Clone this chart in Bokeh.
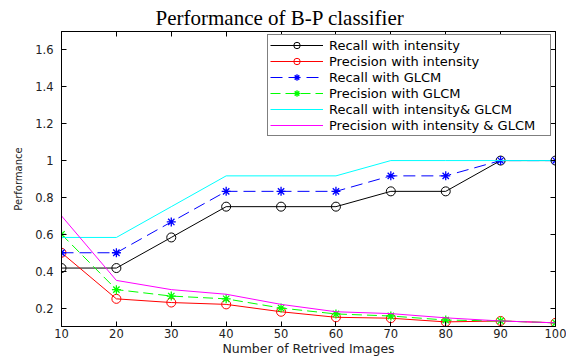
from bokeh.plotting import figure
from bokeh.models import (Legend, LegendItem, LinearAxis, FixedTicker, Range1d)
from bokeh.embed import file_html
from bokeh.resources import INLINE

# ---- data ----
retrieved = [10, 20, 30, 40, 50, 60, 70, 80, 90, 100]
recall_intensity = [0.417, 0.417, 0.583, 0.75, 0.75, 0.75, 0.833, 0.833, 1.0, 1.0]
precision_intensity = [0.50, 0.25, 0.23, 0.22, 0.18, 0.15, 0.145, 0.125, 0.13, 0.12]
recall_glcm = [0.50, 0.50, 0.667, 0.833, 0.833, 0.833, 0.917, 0.917, 1.0, 1.0]
precision_glcm = [0.60, 0.30, 0.265, 0.25, 0.20, 0.168, 0.157, 0.135, 0.13, 0.12]
recall_both = [0.583, 0.583, 0.75, 0.917, 0.917, 0.917, 1.0, 1.0, 1.0, 1.0]
precision_both = [0.70, 0.35, 0.30, 0.275, 0.22, 0.18, 0.17, 0.147, 0.13, 0.12]

x_ticks = [10, 20, 30, 40, 50, 60, 70, 80, 90, 100]
y_ticks = [0.2, 0.4, 0.6, 0.8, 1.0, 1.2, 1.4, 1.6]
y_tick_labels = {0.2: "0.2", 0.4: "0.4", 0.6: "0.6", 0.8: "0.8", 1.0: "1",
                 1.2: "1.2", 1.4: "1.4", 1.6: "1.6"}

title_text = "Performance of B-P classifier"
x_label = "Number of Retrived Images"
y_label = "Performance"
legend_labels = ["Recall with intensity", "Precision with intensity", "Recall with GLCM",
                 "Precision with GLCM", "Recall with intensity& GLCM",
                 "Precision with intensity & GLCM"]

SANS = "DejaVu Sans"

p = figure(width=566, height=358, x_range=Range1d(10, 100), y_range=Range1d(0.1, 1.7),
           output_backend="svg", toolbar_location=None,
           min_border_left=61, min_border_right=11, min_border_top=31, min_border_bottom=31)
p.grid.visible = False
p.outline_line_color = "black"
p.outline_line_width = 1
p.background_fill_color = "white"
p.border_fill_color = "white"

# title
p.title.text = title_text
p.title.align = "left"
p.title.offset = 94
p.title.standoff = 3
p.title.text_font = "Liberation Serif"
p.title.text_font_size = "21px"
p.title.text_font_style = "normal"
p.title.text_color = "black"

# main axes
xa = p.xaxis[0]
xa.ticker = FixedTicker(ticks=x_ticks)
ya = p.yaxis[0]
ya.ticker = FixedTicker(ticks=y_ticks)
ya.major_label_overrides = y_tick_labels
for ax in (xa, ya):
    ax.major_tick_in = 5
    ax.major_tick_out = 0
    ax.minor_tick_line_color = None
    ax.axis_line_color = "black"
    ax.major_tick_line_color = "black"
    ax.major_label_text_font = SANS
    ax.major_label_text_font_size = "11.5px"
    ax.major_label_text_color = "#222222"
    ax.axis_label_text_font = SANS
    ax.axis_label_text_font_style = "normal"
    ax.axis_label_text_color = "#222222"
xa.major_label_standoff = 2
xa.axis_label = x_label
xa.axis_label_text_font_size = "12.5px"
xa.axis_label_standoff = 0
ya.major_label_standoff = 8
ya.axis_label = y_label
ya.axis_label_text_font_size = "10px"
ya.axis_label_standoff = 8

# mirrored tick-only axes (top and right)
for loc, ticks in (("above", x_ticks), ("right", y_ticks)):
    ax = LinearAxis(ticker=FixedTicker(ticks=ticks),
                    major_label_overrides={t: "" for t in ticks})
    ax.major_tick_in = 5
    ax.major_tick_out = 0
    ax.minor_tick_line_color = None
    ax.major_label_standoff = 0
    ax.major_label_text_font_size = "1px"
    ax.axis_line_color = "black"
    p.add_layout(ax, loc)

# series
r1l = p.line(retrieved, recall_intensity, line_color="black", line_width=1)
r1m = p.scatter(retrieved, recall_intensity, marker="circle", size=9,
                fill_color=None, line_color="black", line_width=1)
r2l = p.line(retrieved, precision_intensity, line_color="#ff0000", line_width=1)
r2m = p.scatter(retrieved, precision_intensity, marker="circle", size=9,
                fill_color=None, line_color="#ff0000", line_width=1)
r3l = p.line(retrieved, recall_glcm, line_color="#0000ff", line_width=1, line_dash="12 6")
r3m = p.scatter(retrieved, recall_glcm, marker="asterisk", size=9,
                line_color="#0000ff", line_width=1.3)
r4l = p.line(retrieved, precision_glcm, line_color="#00ff00", line_width=1, line_dash="10 5")
r4m = p.scatter(retrieved, precision_glcm, marker="asterisk", size=9,
                line_color="#00ff00", line_width=1.3)
r5l = p.line(retrieved, recall_both, line_color="#00ffff", line_width=1)
r6l = p.line(retrieved, precision_both, line_color="#ff00ff", line_width=1)

items = [
    LegendItem(label=legend_labels[0], renderers=[r1l, r1m]),
    LegendItem(label=legend_labels[1], renderers=[r2l, r2m]),
    LegendItem(label=legend_labels[2], renderers=[r3l, r3m]),
    LegendItem(label=legend_labels[3], renderers=[r4l, r4m]),
    LegendItem(label=legend_labels[4], renderers=[r5l]),
    LegendItem(label=legend_labels[5], renderers=[r6l]),
]
legend = Legend(items=items, location=(206, 190), margin=0, padding=2, spacing=0,
                glyph_width=53, glyph_height=16, label_height=16, label_width=219,
                label_standoff=6, border_line_color="black", border_line_width=1,
                background_fill_color="white", background_fill_alpha=1.0,
                label_text_font=SANS, label_text_font_size="13px",
                label_text_color="black")
p.add_layout(legend)

open("out.html", "w").write(file_html(p, INLINE))
